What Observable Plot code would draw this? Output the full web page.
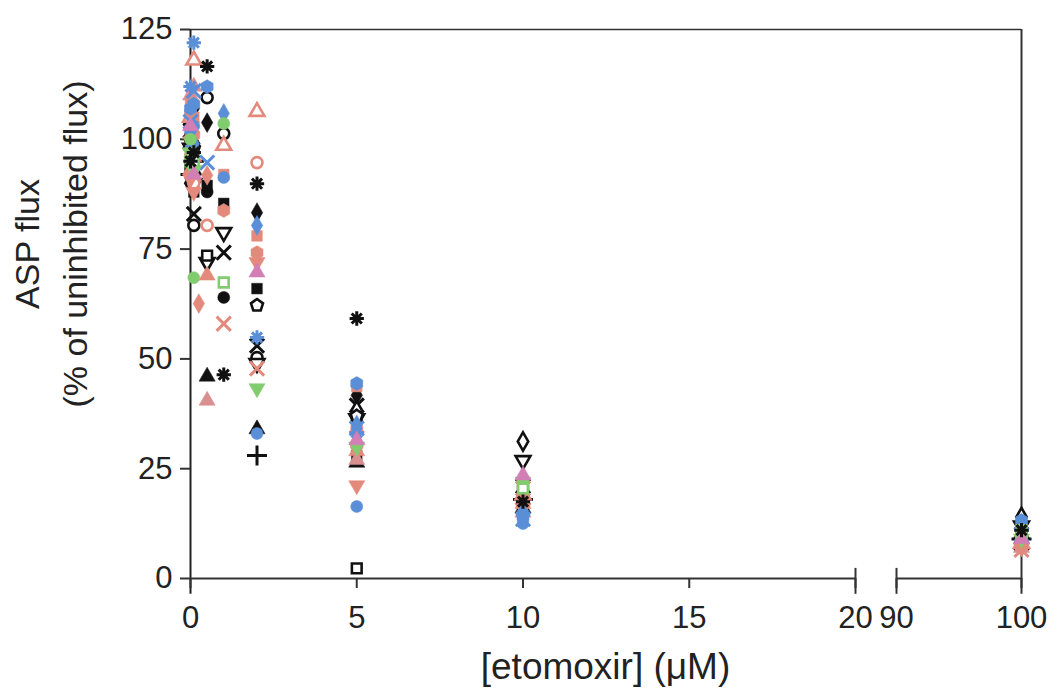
<!DOCTYPE html>
<html>
<head>
<meta charset="utf-8">
<script src="https://cdn.jsdelivr.net/npm/d3@7"></script>
<script src="https://cdn.jsdelivr.net/npm/@observablehq/plot@0.6"></script>
<style>
  html, body { margin: 0; padding: 0; background: #fff; }
  #chart svg { display: block; }
</style>
</head>
<body>
<div id="chart"></div>
<script>
// Etomoxir concentrations (µM)
const conc = [0, 0.1, 0.25, 0.5, 1, 2, 5, 10, 100];
const xTicks = [0, 5, 10, 15, 20, 90, 100];
const yTicks = [0, 25, 50, 75, 100, 125];

// ASP flux (% of uninhibited flux), one array per experiment, aligned with conc
const blackCircle        = [101, 96, null, 88, 64, null, 36, 17, 10];
const blackSquare        = [97, 88, null, 89.5, 85.4, 66, 28, 18, 12];
const blackTriangle      = [99, 93, null, 46, null, 34, 26.4, 16, 9];
const blackDiamond       = [104, 107, null, 103.8, null, 83.3, 41.7, 19, 13];
const blackAsterisk      = [95, 97, null, 116.6, 46.4, 89.9, 59.2, 17.5, 11];
const blackTimes         = [102, 83, null, null, 74.2, 53, 39.4, 21, 8];
const blackPlus          = [92, 95, null, null, null, 28, null, 18, 9];
const blackOpenCircle    = [100, 80.4, null, 109.5, 101.3, 50.3, null, 17, 11];
const blackOpenDiamond   = [90, 99, null, null, null, null, 38.3, 31.2, 14];
const blackOpenDownTri   = [98, 90, null, 72, 78.8, 49, 36.4, 26.9, 12];
const blackOpenSquare    = [94, 92, null, 73.5, null, null, 2.3, 20, 10];
const blackOpenPentagon  = [103, 98, null, null, null, 62.2, 37, 16.5, 11];
const salmonOpenTriangle = [105, 118, null, null, 98.6, 106.3, null, 19, 8];
const salmonOpenCircle   = [96, 90, null, 80.4, null, 94.7, 30.3, 17, 7];
const salmonTimes        = [99, 92, null, null, 58, 47.8, 32, 20.5, 6.5];
const salmonSquare       = [108, 105, null, null, 92, 78, 43.7, 18, 9];
const salmonTriangle     = [93, 96, null, 69, null, null, 29, 17, 8];
const salmonTriangle2    = [110, 112, null, 40.5, null, null, 27, 15, 7];
const salmonDownTriangle = [91, 88, null, null, null, 72, 21.2, 16, 7];
const salmonDiamond      = [101, 94, 62.6, 91.8, null, null, 31, 19, 8];
const salmonHexagon      = [106, 101, null, null, 83.8, 74.2, 34, 18, 9];
const blueCircle         = [102, 103, null, null, 91.3, 33, 16.4, 12.5, 10];
const blueHexagon        = [107, 108, null, 112, null, null, 44.4, 14, 13.2];
const blueDiamond        = [98, 99, null, null, 105.9, 80.4, 35, 15, 12];
const blueAsterisk       = [112, 122, null, null, null, 54.9, 33.2, 14.5, 11];
const blueTimes          = [104, 111, null, 94.7, null, null, 34.2, 13.5, 10];
const greenDownTriangle  = [97, 93, null, null, null, 43.3, 30, 22, 9];
const greenCircle        = [100, 68.5, null, null, 103.6, null, 30.7, 21.9, 10];
const greenOpenSquare    = [95, 95, null, null, 67.4, null, null, 20.5, 11];
const pinkTriangle       = [103, 92, null, null, null, 69.7, 31.5, 23.5, 9];

// custom symbols
const sqrt3 = Math.sqrt(3);
const symbolDownTriangle = {
  draw(ctx, size) {
    const y = -Math.sqrt(size / (sqrt3 * 3));
    ctx.moveTo(0, -y * 2);
    ctx.lineTo(-sqrt3 * y, y);
    ctx.lineTo(sqrt3 * y, y);
    ctx.closePath();
  }
};
const symbolPentagon = {
  draw(ctx, size) {
    const r = Math.sqrt(size / 2.38);
    for (let i = 0; i < 5; i++) {
      const a = -Math.PI / 2 + i * 2 * Math.PI / 5;
      const px = r * Math.cos(a), py = r * Math.sin(a);
      if (i === 0) ctx.moveTo(px, py); else ctx.lineTo(px, py);
    }
    ctx.closePath();
  }
};
// eight-armed asterisk
const symbolStar8 = {
  draw(ctx, size) {
    const r = Math.sqrt(size / Math.PI) * 1.1;
    for (let i = 0; i < 4; i++) {
      const a = i * Math.PI / 4;
      const px = r * Math.cos(a), py = r * Math.sin(a);
      ctx.moveTo(-px, -py);
      ctx.lineTo(px, py);
    }
  }
};

const BLACK = "#111111", SALMON = "#e38a7c", SALMON2 = "#d98f8f", BLUE = "#5a8fd8",
      GREEN = "#82cc70", PINK = "#d27fb6";

// series -> style (kind: fill | open | line)
const series = [
  [blackCircle, "circle", BLACK, "fill"],
  [blackSquare, "square", BLACK, "fill"],
  [blackTriangle, "triangle", BLACK, "fill"],
  [blackDiamond, "diamond", BLACK, "fill"],
  [blackPlus, "plus", BLACK, "line"],
  [blackTimes, "times", BLACK, "line"],
  [blackOpenCircle, "circle", BLACK, "open"],
  [blackOpenDiamond, "diamond", BLACK, "open"],
  [blackOpenDownTri, symbolDownTriangle, BLACK, "open"],
  [blackOpenSquare, "square", BLACK, "open"],
  [blackOpenPentagon, symbolPentagon, BLACK, "open"],
  [salmonOpenTriangle, "triangle", SALMON, "open"],
  [salmonOpenCircle, "circle", SALMON, "open"],
  [salmonTimes, "times", SALMON, "line"],
  [salmonSquare, "square", SALMON, "fill"],
  [salmonTriangle, "triangle", SALMON, "fill"],
  [salmonTriangle2, "triangle", SALMON2, "fill"],
  [salmonDownTriangle, symbolDownTriangle, SALMON, "fill"],
  [salmonDiamond, "diamond", SALMON, "fill"],
  [salmonHexagon, "hexagon", SALMON, "fill"],
  [blueCircle, "circle", BLUE, "fill"],
  [blueHexagon, "hexagon", BLUE, "fill"],
  [blueDiamond, "diamond", BLUE, "fill"],
  [blueAsterisk, symbolStar8, BLUE, "line"],
  [blueTimes, "times", BLUE, "line"],
  [greenDownTriangle, symbolDownTriangle, GREEN, "fill"],
  [greenCircle, "circle", GREEN, "fill"],
  [greenOpenSquare, "square", GREEN, "open"],
  [pinkTriangle, "triangle", PINK, "fill"],
  [blackAsterisk, symbolStar8, BLACK, "line"]
];

const dotMarks = series.map(([vals, symbol, color, kind]) => {
  const data = conc.map((c, i) => ({x: c, y: vals[i]})).filter(d => d.y != null);
  const opts = {x: "x", y: "y", symbol, r: 6};
  if (kind === "fill") Object.assign(opts, {fill: color, stroke: color, strokeWidth: 0.5});
  else if (kind === "open") Object.assign(opts, {fill: "white", stroke: color, strokeWidth: 2.6, r: 5.5});
  else Object.assign(opts, {fill: "none", stroke: color, strokeWidth: 3, r: 6.5});
  return Plot.dot(data, opts);
});

const W = 1055, H = 688;
const plot = Plot.plot({
  width: W,
  height: H,
  marginLeft: 190,
  marginRight: 34,
  marginTop: 29,
  marginBottom: 110,
  style: {fontFamily: "'Liberation Sans', Arial, sans-serif", fontSize: "31px", color: "#222", background: "white"},
  x: {type: "linear", domain: [0, 20, 90, 100], range: [190, 855, 896, 1021]},
  y: {domain: [0, 125], range: [578, 29]},
  marks: [
    // frame pieces
    Plot.ruleY([125], {x1: 0, x2: 100, stroke: "#333", strokeWidth: 1.5}),
    Plot.ruleX([100], {y1: -3.6, y2: 125, stroke: "#333", strokeWidth: 2}),
    Plot.ruleX([0], {y1: -3.6, y2: 125, stroke: "#222", strokeWidth: 2}),
    Plot.ruleY([0], {x1: 0, x2: 20, stroke: "#333", strokeWidth: 2}),
    Plot.ruleY([0], {x1: 90, x2: 100, stroke: "#333", strokeWidth: 2}),
    Plot.ruleX([20, 90], {y1: -3.6, y2: 2.3, stroke: "#333", strokeWidth: 2}),
    Plot.axisX({ticks: xTicks, tickFormat: d => String(d), tickSize: 10, tickPadding: 17,
      label: null, stroke: "#333", strokeWidth: 2, fontSize: 31, fill: "#222"}),
    Plot.axisY({ticks: yTicks, tickFormat: d => String(d), tickSize: 10, tickPadding: 8,
      label: null, stroke: "#333", strokeWidth: 2, fontSize: 31, fill: "#222"}),
    // axis titles
    Plot.text(["[etomoxir] (μM)"], {frameAnchor: "bottom", dx: 605 - (190 + 1021) / 2, dy: 100,
      fontSize: 37, fill: "#222", lineAnchor: "bottom", textAnchor: "middle"}),
    Plot.text(["ASP flux"], {frameAnchor: "left", rotate: -90, dx: -162, dy: -60,
      fontSize: 34, fill: "#222", lineAnchor: "middle", textAnchor: "middle"}),
    Plot.text(["(% of uninhibited flux)"], {frameAnchor: "left", rotate: -90, dx: -114, dy: -60,
      fontSize: 34, fill: "#222", lineAnchor: "middle", textAnchor: "middle"}),
    ...dotMarks
  ]
});
document.getElementById("chart").appendChild(plot);
</script>
</body>
</html>
